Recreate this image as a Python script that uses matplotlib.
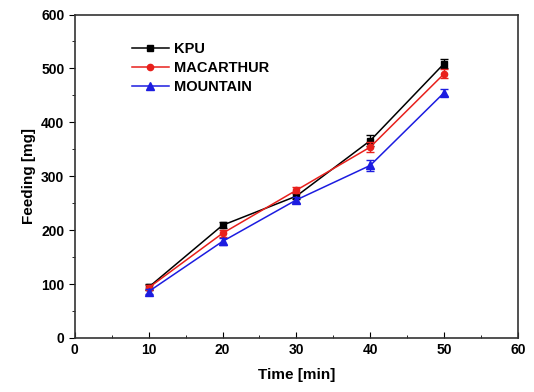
import numpy as np
import matplotlib.pyplot as plt

plt.rcParams['font.family'] = ['Liberation Sans', 'DejaVu Sans']
plt.rcParams['font.weight'] = 'bold'

time = [10, 20, 30, 40, 50]
kpu = [94, 209, 263, 366, 509]
macarthur = [93, 194, 274, 354, 490]
mountain = [86, 179, 256, 320, 455]
kpu_err = [6, 6, 6, 10, 9]
macarthur_err = [5, 6, 6, 9, 8]
mountain_err = [5, 6, 6, 10, 7]

fig = plt.figure(figsize=(5.34, 3.92), dpi=100)
ax = fig.add_axes([0.140, 0.138, 0.830, 0.825])

series = [
    ('KPU', kpu, kpu_err, 'black', 's', 4.5),
    ('MACARTHUR', macarthur, macarthur_err, '#e8201c', 'o', 4.5),
    ('MOUNTAIN', mountain, mountain_err, '#1c1ce0', '^', 5.5),
]
for name, vals, err, col, mk, ms in series:
    ax.errorbar(time, vals, yerr=err, color=col, fmt='none', elinewidth=1.0, capsize=3)
    ax.plot(time, vals, color=col, marker=mk, markersize=ms, linewidth=1.1, label=name)

ax.set_xlim(0, 60)
ax.set_ylim(0, 600)
ax.set_xticks(range(0, 61, 10))
ax.set_xticks(range(5, 60, 10), minor=True)
ax.set_yticks(range(0, 601, 100))
ax.set_yticks(range(50, 600, 100), minor=True)
ax.tick_params(axis='x', direction='in', labelsize=10, length=4)
ax.tick_params(axis='x', which='minor', direction='in', length=2.5)
ax.tick_params(axis='y', direction='out', labelsize=10, length=4)
ax.tick_params(axis='y', which='minor', direction='out', length=2.5)
ax.tick_params(top=False, right=False)
for s in ax.spines.values():
    s.set_linewidth(1.2)
    s.set_color('#333333')

ax.set_xlabel('Time [min]', fontsize=11, fontweight='bold', labelpad=8)
ax.set_ylabel('Feeding [mg]', fontsize=11, fontweight='bold', labelpad=4)

leg = ax.legend(loc='upper left', bbox_to_anchor=(0.10, 0.955), frameon=False,
                fontsize=10.5, handlelength=2.5, handletextpad=0.4, labelspacing=0.35)

fig.savefig('out.png', dpi=100)
